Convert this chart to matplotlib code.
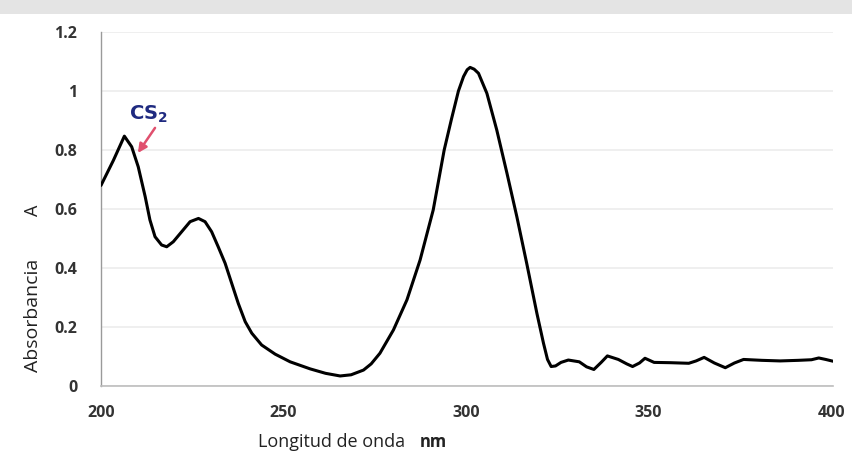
import matplotlib
matplotlib.use("Agg")
import matplotlib.pyplot as plt
from matplotlib.patches import Rectangle

# UV-Vis absorption spectrum
wavelength_nm = [200.0, 203.4, 206.4, 208.4, 210.2, 212.1, 213.4, 214.8, 216.6, 218.0,
                 219.8, 222.1, 224.4, 226.7, 228.5, 230.3, 232.1, 234.0, 235.8, 237.6,
                 239.5, 241.3, 244.0, 247.7, 251.8, 257.3, 261.5, 265.5, 268.5, 271.9,
                 274.0, 276.4, 280.1, 283.8, 287.4, 291.0, 294.0, 296.0, 297.9, 299.3,
                 300.3, 301.1, 302.2, 303.4, 305.7, 308.4, 311.2, 313.9, 316.6, 319.4,
                 321.2, 322.3, 323.3, 324.5, 326.0, 328.0, 331.0, 333.0, 335.0, 337.0,
                 338.7, 341.7, 344.0, 345.6, 347.5, 349.0, 351.5, 356.0, 361.0, 363.0,
                 365.2, 368.0, 371.0, 373.5, 376.0, 381.0, 386.0, 391.0, 394.6, 396.6,
                 398.5, 400.5]
absorbance = [0.68, 0.765, 0.847, 0.811, 0.743, 0.642, 0.563, 0.506, 0.478, 0.472,
              0.489, 0.523, 0.557, 0.568, 0.557, 0.523, 0.472, 0.416, 0.348, 0.28,
              0.218, 0.179, 0.139, 0.108, 0.082, 0.058, 0.043, 0.034, 0.038, 0.054,
              0.075, 0.111, 0.19, 0.292, 0.427, 0.597, 0.80, 0.905, 1.0, 1.049,
              1.072, 1.08, 1.074, 1.06, 0.992, 0.868, 0.721, 0.574, 0.416, 0.246,
              0.145, 0.09, 0.066, 0.068, 0.08, 0.088, 0.082, 0.065, 0.056, 0.08,
              0.102, 0.09, 0.075, 0.066, 0.078, 0.094, 0.08, 0.079, 0.077, 0.085,
              0.097, 0.078, 0.062, 0.078, 0.09, 0.087, 0.085, 0.087, 0.089, 0.095,
              0.09, 0.084]

x_ticks = [200, 250, 300, 350, 400]
y_ticks = [0, 0.2, 0.4, 0.6, 0.8, 1.0, 1.2]
y_tick_labels = ["0", "0.2", "0.4", "0.6", "0.8", "1", "1.2"]

W, H = 852, 455
fig = plt.figure(figsize=(W / 100, H / 100), dpi=100)
fig.patch.set_facecolor("white")

# light grey strip along the top edge
fig.patches.append(Rectangle((0, 1 - 14 / H), 1, 14 / H, transform=fig.transFigure,
                             facecolor="#e4e4e4", edgecolor="none", zorder=0))

ax_left, ax_right = 101, 833
ax_bottom, ax_top = 386, 32
ax = fig.add_axes([ax_left / W, (H - ax_bottom) / H,
                   (ax_right - ax_left) / W, (ax_bottom - ax_top) / H])

ax.plot(wavelength_nm, absorbance, color="black", lw=2.2, solid_joinstyle="round",
        solid_capstyle="round", zorder=3)

ax.set_xlim(200, 400.5)
ax.set_ylim(0, 1.2)
ax.set_xticks(x_ticks)
ax.set_yticks(y_ticks)
ax.set_yticklabels(y_tick_labels)

for t in ax.get_xticklabels() + ax.get_yticklabels():
    t.set_fontfamily("Open Sans")
    t.set_fontweight("bold")
    t.set_fontsize(11.5)
    t.set_color("#333333")
ax.tick_params(axis="both", length=0)
ax.tick_params(axis="y", pad=17)
ax.tick_params(axis="x", pad=14)

ax.grid(axis="y", color="#ececec", lw=1.2, zorder=0)
for side in ("top", "right"):
    ax.spines[side].set_visible(False)
ax.spines["left"].set_color("#9a9a9a")
ax.spines["bottom"].set_color("#bdbdbd")
ax.spines["left"].set_linewidth(1.0)
ax.spines["bottom"].set_linewidth(1.2)

# axis titles
fig.text(258 / W, 1 - 442 / H, "Longitud de onda", ha="left", va="center",
         fontsize=13, family="Open Sans", color="#222222")
fig.text(433 / W, 1 - 442 / H, "nm", ha="center", va="center",
         fontsize=12, family="Open Sans", fontweight="bold", color="#222222")
fig.text(33 / W, 1 - 372 / H, "Absorbancia", ha="center", va="bottom",
         rotation=90, fontsize=14, family="Open Sans", color="#222222")
fig.text(33 / W, 1 - 210 / H, "A", ha="center", va="center",
         rotation=90, fontsize=13, family="Open Sans", color="#222222")

# peak annotation
ax.annotate("", xy=(210.1, 0.79), xytext=(214.8, 0.875),
            arrowprops=dict(arrowstyle="-|>", color="#e0506e", lw=1.8,
                            mutation_scale=13, shrinkA=0, shrinkB=0))
ax.text(212.9, 0.92, r"$\mathbf{CS}_\mathbf{2}$", ha="center", va="center",
        fontsize=14, color="#1f2a80")

fig.savefig("out.png", dpi=100)
